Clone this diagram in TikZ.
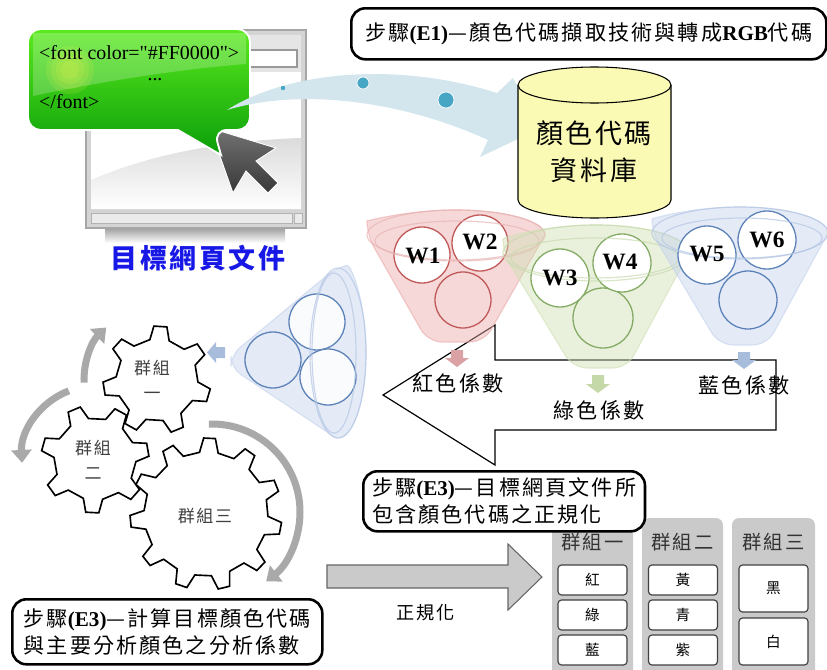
\documentclass[tikz,border=0pt]{standalone}
\usepackage{fontspec}
\setmainfont{Liberation Serif}
\newfontfamily\cjk[LetterSpace=10]{Noto Sans CJK TC}
% plain font load, so that straight quotes stay straight
\font\codefont="Liberation Serif" at 17pt
\usetikzlibrary{arrows.meta}

\definecolor{framegray}{HTML}{D4D4D4}
\definecolor{bubbletop}{HTML}{5BEA1E}
\definecolor{bubblebot}{HTML}{0A9E0A}
\definecolor{flowblue}{HTML}{D3E6EE}
\definecolor{dotblue}{HTML}{47A6C4}
\definecolor{dbyellow}{HTML}{FAFAB4}
\definecolor{redF}{HTML}{EBA9A9}
\definecolor{redS}{HTML}{E8B4B4}
\definecolor{redC}{HTML}{C05858}
\definecolor{greenF}{HTML}{CFE0B4}
\definecolor{greenS}{HTML}{C8DAAE}
\definecolor{greenC}{HTML}{84AA64}
\definecolor{blueF}{HTML}{C4D2EC}
\definecolor{blueS}{HTML}{B4C6E4}
\definecolor{blueC}{HTML}{5C82B8}
\definecolor{redA}{HTML}{DBA2A6}
\definecolor{greenA}{HTML}{C4D8A8}
\definecolor{blueA}{HTML}{A8BCDC}
\definecolor{turngray}{HTML}{A9A9A9}
\definecolor{colgray}{HTML}{CACACA}
\definecolor{titleblue}{HTML}{1818E6}

\newcommand{\lat}[1]{{\rmfamily\bfseries #1}}
% gear outline: centre x, centre y, teeth, root radius, tip radius, phase
\newcommand{\gearoutline}[6]{%
  \pgfmathsetmacro{\gstep}{360/#3}%
  \draw[gearline, shift={(#1,#2)}] ({#6}:#4)
    \foreach \k in {1,...,#3}{
      -- ({#6+(\k-1)*\gstep}:#4)
      -- ({#6+(\k-1)*\gstep+0.13*\gstep}:#5)
      -- ({#6+(\k-1)*\gstep+0.40*\gstep}:#5)
      -- ({#6+(\k-1)*\gstep+0.53*\gstep}:#4)
    } -- cycle;}

\begin{document}
\begin{tikzpicture}[x=0.03cm,y=-0.03cm,
  stepbox/.style={draw=black, line width=2.2pt, rounded corners=12pt, fill=white, inner sep=0pt},
  steptext/.style={font=\cjk\fontsize{18pt}{23pt}\selectfont, align=left},
  gearline/.style={draw=black, line width=1.4pt, fill=white, line join=miter},
  gearlbl/.style={font=\cjk\fontsize{14.5pt}{21pt}\selectfont, text=black!75, align=center},
  turn/.style={draw=turngray, line width=6pt, -{Triangle[width=17pt,length=11pt]}},
  wlbl/.style={font=\rmfamily\bfseries\fontsize{20pt}{20pt}\selectfont},
  coef/.style={font=\cjk\fontsize{18pt}{20pt}\selectfont},
  col/.style={fill=colgray, rounded corners=6pt},
  colhead/.style={font=\cjk\fontsize{16.5pt}{18pt}\selectfont, text=black!80},
  cell/.style={draw=black!75, line width=1pt, fill=white, rounded corners=3pt,
    minimum width=2.07cm, inner sep=0pt, font=\cjk\fontsize{12.5pt}{14pt}\selectfont},
  codetext/.style={font=\codefont, inner sep=0pt},
  funnelbody/.style={fill=#1, fill opacity=0.45, draw=#1, draw opacity=0.6, line width=1pt},
  rim/.style={draw=#1, line width=1pt, opacity=0.7},
  ball/.style={draw=#1, line width=1.1pt},
]
\useasboundingbox (0,0) rectangle (827,670);

% ---------- web page window ----------
\shade[top color=black!35, bottom color=white] (105,229) rectangle (285,243);
\draw[fill=framegray, draw=black!35, line width=1pt] (86,30) rectangle (306,228);
\fill[black!10] (91,35) rectangle (301,72);
\draw[fill=white, draw=black!40, line width=1pt] (250,50) rectangle (297,67);
\fill[white] (91,72) rectangle (301,209);
\shade[top color=black!14, bottom color=white] (91,180) .. controls (160,150) and (240,140) .. (301,138) -- (301,209) -- (91,209) -- cycle;
\draw[fill=black!8, draw=black!30, line width=0.8pt] (91,213) rectangle (292,223);
\draw[fill=black!8, draw=black!30, line width=0.8pt] (294,213) rectangle (302,223);

% mouse pointer
\shade[top color=black!55, bottom color=black!78, draw=white, line width=0.8pt]
  (210,128) -- (276,148) -- (256,161) -- (278,183) -- (268,193) -- (246,171) -- (233,193) -- cycle;

% speech bubble with the colour code
\shade[top color=bubbletop, bottom color=bubblebot, draw=white, line width=1.6pt]
  (28,40) [rounded corners=11pt] -- (28,29) -- (250,29) -- (250,130) -- (214,130)
  [sharp corners] -- (221,155) -- (178,130) [rounded corners=11pt] -- (28,130) -- cycle;
\fill[white, opacity=0.22] (33,33) -- (246,33) -- (246,64) .. controls (170,70) and (90,84) .. (33,96) -- cycle;
\foreach \r in {24,19,14,9}
  \fill[yellow!70!white, opacity=0.13] (70,70) circle[radius=\r];
\node[codetext, anchor=west] (code1) at (39,53) {<font color="\#FF0000">};
\node[codetext] (code2) at (155,80) {...};
\node[codetext, anchor=west] (code3) at (39,102) {</font>};

\node[font=\cjk\bfseries\fontsize{23pt}{25pt}\selectfont, text=titleblue] (page) at (198,258) {目標網頁文件};

% ---------- curved flow arrow ----------
\fill[flowblue] (227,110) .. controls (290,70) and (400,62) .. (497,93) -- (513,78) -- (541,128)
  -- (480,157) -- (488,140) .. controls (400,100) and (300,88) .. (227,110) -- cycle;
\fill[dotblue] (283,88) circle[radius=2.2];
\draw[dotblue, fill=dotblue, draw=white, line width=0.6pt] (363,83) circle[radius=6];
\draw[dotblue, fill=dotblue, draw=white, line width=0.6pt] (446,100) circle[radius=8];

% ---------- step E1 ----------
\node[stepbox, steptext, minimum width=14.25cm, minimum height=1.53cm, anchor=north west] (e1) at (350,7)
  {步驟\lat{(E1)}—顏色代碼擷取技術與轉成\lat{RGB}代碼};

% ---------- large left arrow ----------
\draw[fill=white, draw=black, line width=1pt, line join=miter]
  (383,395) -- (495,325) -- (495,360) -- (776,360) -- (776,430) -- (495,430) -- (495,465) -- cycle;

% ---------- colour funnels ----------
% red
\path[funnelbody=redF] (367,235) arc[start angle=180, end angle=360, x radius=89, y radius=25]
  [rounded corners=12pt] -- (484,342) -- (428,342) -- cycle;
\draw[ball=redC] (463,300) circle[radius=28];
\draw[ball=redC, fill=white] (422,255) circle[radius=28];
\draw[ball=redC, fill=white] (480,243) circle[radius=28];
\draw[rim=redS] (456,235) ellipse[x radius=89, y radius=25];
\draw[rim=redS] (457,241) ellipse[x radius=82, y radius=20];
\node[wlbl] (w1) at (423,256) {W1};
\node[wlbl] (w2) at (480,242) {W2};
% green
\path[funnelbody=greenF] (503,253) arc[start angle=180, end angle=360, x radius=93, y radius=28]
  [rounded corners=12pt] -- (627,368) -- (573,368) -- cycle;
\draw[ball=greenC] (603,318) circle[radius=30];
\draw[ball=greenC, fill=white] (560,278) circle[radius=29];
\draw[ball=greenC, fill=white] (622,263) circle[radius=29];
\draw[rim=greenS] (596,253) ellipse[x radius=93, y radius=28];
\draw[rim=greenS] (595,258) ellipse[x radius=84, y radius=20];
\node[wlbl] (w3) at (560,278) {W3};
\node[wlbl] (w4) at (620,262) {W4};
% blue
\path[funnelbody=blueF] (652,233) arc[start angle=180, end angle=360, x radius=88, y radius=26]
  [rounded corners=12pt] -- (767,345) -- (719,345) -- cycle;
\draw[ball=blueC] (748,300) circle[radius=29];
\draw[ball=blueC, fill=white] (707,255) circle[radius=29];
\draw[ball=blueC, fill=white] (767,240) circle[radius=29];
\draw[rim=blueS] (740,233) ellipse[x radius=88, y radius=26];
\draw[rim=blueS] (742,238) ellipse[x radius=80, y radius=20];
\node[wlbl] (w5) at (707,254) {W5};
\node[wlbl] (w6) at (767,240) {W6};

% ---------- colour code database ----------
\draw[fill=dbyellow, draw=black, line width=0.9pt] (518,85) -- (518,200)
  arc[start angle=180, end angle=0, x radius=76.5, y radius=18] -- (671,85);
\draw[fill=dbyellow, draw=black, line width=0.9pt] (594.5,85) ellipse[x radius=76.5, y radius=18];
\node[font=\cjk\fontsize{23pt}{31.5pt}\selectfont, align=center] (db) at (594,152) {顏色代碼\\資料庫};

% ---------- coefficient arrows and labels ----------
\fill[redA] (451,350) -- (463,350) -- (463,358) -- (469,358) -- (457,367) -- (445,358) -- (451,358) -- cycle;
\fill[greenA] (592,375) -- (604,375) -- (604,384) -- (610,384) -- (598,393) -- (586,384) -- (592,384) -- cycle;
\fill[blueA] (738,352) -- (750,352) -- (750,360) -- (756,360) -- (744,369) -- (732,360) -- (738,360) -- cycle;
\node[coef] (cr) at (458,383) {紅色係數};
\node[coef] (cg) at (599,410) {綠色係數};
\node[coef] (cb) at (744,385) {藍色係數};

% ---------- merged funnel ----------
\path[funnelbody=blueF, rounded corners=10pt] (231,355) -- (335.6,268.3)
  [sharp corners] arc[start angle=265, end angle=455, x radius=28, y radius=85]
  [rounded corners=10pt] -- (231,368) -- cycle;
\draw[ball=blueC] (273,360) circle[radius=28];
\draw[ball=blueC, fill=white, fill opacity=0.85] (317,322) circle[radius=28];
\draw[ball=blueC, fill=white, fill opacity=0.85] (328,377) circle[radius=28];
\draw[rim=blueS] (338,353) ellipse[x radius=28, y radius=85];
\draw[rim=blueS] (334,353) ellipse[x radius=22, y radius=80];
\fill[blueA] (225,347) -- (225,358) -- (216,358) -- (216,363) -- (207,352.5) -- (216,342) -- (216,347) -- cycle;

% ---------- gears ----------
\gearoutline{157}{380}{7}{41}{54}{-100}
\gearoutline{95}{459}{7}{41}{54}{-75}
\gearoutline{206}{514}{11}{62}{76}{-96}
\node[gearlbl] (g1) at (152,380) {群組\\一};
\node[gearlbl] (g2) at (93,460) {群組\\二};
\node[gearlbl] (g3) at (205,516) {群組三};
\draw[turn] (157,380) ++(178:73) arc[start angle=178, end angle=226, radius=73];
\draw[turn] (95,459) ++(249:73) arc[start angle=249, end angle=177, radius=73];
\draw[turn] (212,512) ++(268:88) arc[start angle=268, end angle=412, radius=88];

% ---------- colour groups ----------
\fill[col] (552,518) rectangle (633,678);
\fill[col] (642,518) rectangle (723,678);
\fill[col] (732,518) rectangle (815,678);
\node[colhead] (h1) at (592.5,542) {群組一};
\node[colhead] (h2) at (682.5,542) {群組二};
\node[colhead] (h3) at (773.5,542) {群組三};
\node[cell, minimum height=0.9cm] (r1) at (592.5,580) {紅};
\node[cell, minimum height=0.9cm] (r2) at (592.5,615) {綠};
\node[cell, minimum height=0.9cm] (r3) at (592.5,650) {藍};
\node[cell, minimum height=0.9cm] (y1) at (683,580) {黃};
\node[cell, minimum height=0.9cm] (y2) at (683,615) {青};
\node[cell, minimum height=0.9cm] (y3) at (683,650) {紫};
\node[cell, minimum height=1.41cm] (k1) at (773.5,588.5) {黑};
\node[cell, minimum height=1.41cm] (k2) at (773.5,641.5) {白};

% ---------- step E3 boxes ----------
\node[stepbox, steptext, minimum width=8.45cm, minimum height=1.8cm, anchor=north west] (e3a) at (362,470)
  {步驟\lat{(E3)}—目標網頁文件所\\包含顏色代碼之正規化};
\node[stepbox, steptext, minimum width=9.3cm, minimum height=1.95cm, anchor=north west] (e3b) at (11,598)
  {步驟\lat{(E3)}—計算目標顏色代碼\\與主要分析顏色之分析係數};

% ---------- normalisation arrow ----------
\draw[fill=colgray, draw=black!60, line width=0.9pt, line join=miter]
  (327,565) -- (508,565) -- (508,544) -- (542,577) -- (508,610) -- (508,588) -- (327,588) -- cycle;
\node[font=\cjk\fontsize{15.5pt}{17pt}\selectfont] (norm) at (426,613) {正規化};
\end{tikzpicture}
\end{document}
